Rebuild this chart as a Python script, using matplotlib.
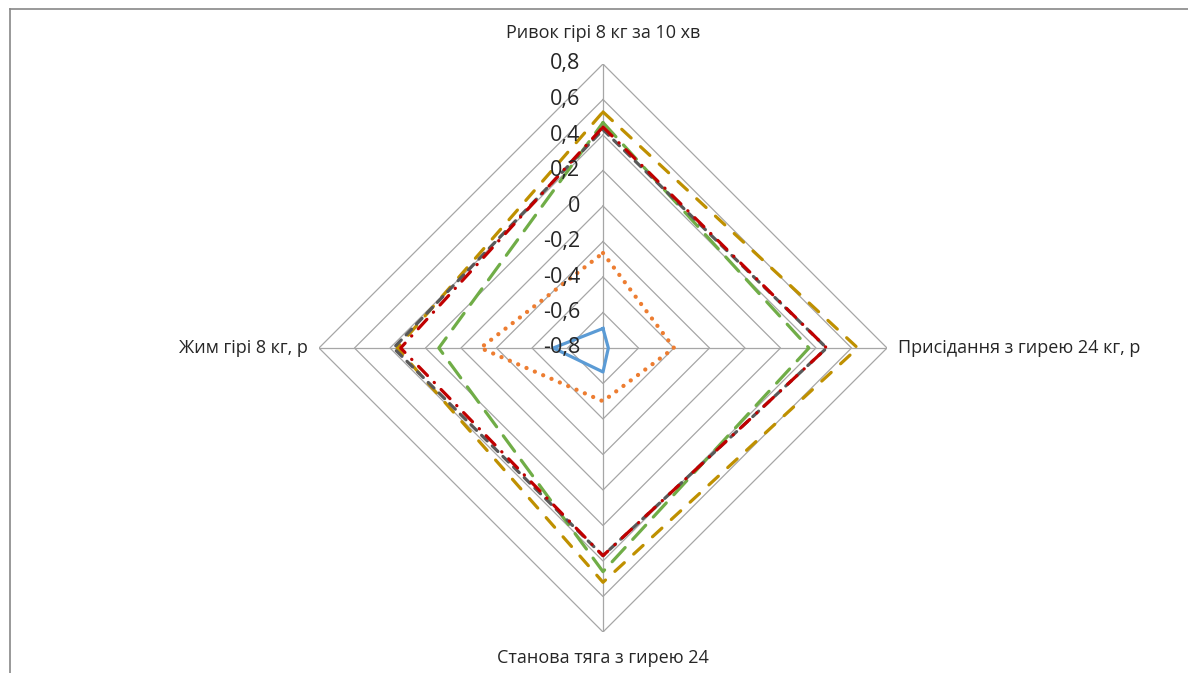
import numpy as np
import matplotlib
matplotlib.use("Agg")
import matplotlib.pyplot as plt

# Radar chart: kettlebell test results for six groups
categories = ["Ривок гірі 8 кг за 10 хв",
              "Присідання з гирею 24 кг, р",
              "Станова тяга з гирею 24",
              "Жим гірі 8 кг, р"]

levels = [-0.8, -0.6, -0.4, -0.2, 0.0, 0.2, 0.4, 0.6, 0.8]
level_labels = ["-0,8", "-0,6", "-0,4", "-0,2", "0", "0,2", "0,4", "0,6", "0,8"]

series_blue = [-0.69, -0.77, -0.665, -0.52]
series_orange = [-0.265, -0.40, -0.50, -0.11]
series_green = [0.47, 0.36, 0.46, 0.125]
series_gold = [0.53, 0.635, 0.52, 0.36]
series_gray = [0.43, 0.46, 0.37, 0.38]
series_red = [0.445, 0.46, 0.37, 0.34]

plt.rcParams["font.family"] = ["Open Sans", "DejaVu Sans"]

W, H = 1188, 673
fig = plt.figure(figsize=(W / 100, H / 100), dpi=100)

# outer chart border (top and left edges visible)
fig.add_artist(plt.Line2D([10 / W, 10 / W], [0, 1 - 9 / H], color="#888888", lw=1.2))
fig.add_artist(plt.Line2D([10 / W, 1], [1 - 9 / H, 1 - 9 / H], color="#888888", lw=1.2))

cx, cy, R = 603, 348, 284
ax = fig.add_axes([(cx - R) / W, (H - cy - R) / H, 2 * R / W, 2 * R / H], projection="polar")
ax.set_theta_zero_location("N")
ax.set_theta_direction(-1)
ax.set_ylim(levels[0], levels[-1])
ax.grid(False)
ax.set_xticks([])
ax.set_yticks([])
ax.spines["polar"].set_visible(False)
ax.patch.set_alpha(0)

n = len(categories)
theta = np.arange(n) * 2 * np.pi / n
theta_c = np.append(theta, theta[0])

grid_col = "#A6A6A6"
for lv in levels[1:]:
    ax.plot(theta_c, [lv] * (n + 1), color=grid_col, lw=0.9, zorder=1)
for t in theta:
    ax.plot([t, t], [levels[0], levels[-1]], color=grid_col, lw=0.9, zorder=1)


def closed(v):
    return list(v) + [v[0]]


lw = 2.3
ax.plot(theta_c, closed(series_blue), color="#5B9BD5", lw=lw, solid_joinstyle="round", zorder=3)
ax.plot(theta_c, closed(series_orange), color="#ED7D31", lw=lw + 0.8, linestyle=(0, (0.01, 2.1)),
        dash_capstyle="round", zorder=3)
ax.plot(theta_c, closed(series_green), color="#70AD47", lw=lw, linestyle=(0, (6, 3.5)),
        dash_capstyle="round", zorder=3)
ax.plot(theta_c, closed(series_gold), color="#BF9000", lw=lw, linestyle=(0, (4, 4)),
        dash_capstyle="round", zorder=3)
ax.plot(theta_c, closed(series_gray), color="#595959", lw=lw, linestyle=(0, (2.5, 2.2)),
        dash_capstyle="round", zorder=4)
ax.plot(theta_c, closed(series_red), color="#C00000", lw=lw, linestyle=(0, (4, 3, 0.1, 3)),
        dash_capstyle="round", zorder=5)

# value labels along the first spoke
for lv, txt in zip(levels, level_labels):
    x_disp, y_disp = ax.transData.transform((0, lv))
    fig.text((x_disp - 23) / W, y_disp / H, txt, ha="right", va="center",
             fontsize=15.5, color="#262626")

# category labels
fig.text(cx / W, 1 - 33 / H, categories[0], ha="center", va="center", fontsize=13, color="#262626")
fig.text(898 / W, 1 - 348 / H, categories[1], ha="left", va="center", fontsize=13, color="#262626")
fig.text(cx / W, 1 - 658 / H, categories[2], ha="center", va="center", fontsize=13, color="#262626")
fig.text(308 / W, 1 - 348 / H, categories[3], ha="right", va="center", fontsize=13, color="#262626")

fig.savefig("out.png", dpi=100)
